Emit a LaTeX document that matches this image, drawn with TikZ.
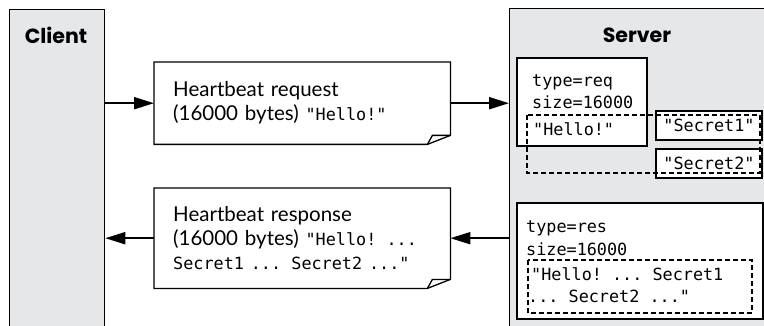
\documentclass[tikz,border=0pt]{standalone}
\usepackage{fontspec}
\setmainfont{Lato}
\setmonofont{DejaVu Sans Mono}
\newfontfamily\titlefont{Poppins}
\usetikzlibrary{arrows.meta}
\definecolor{panelgray}{HTML}{E6E7E8}
\newcommand{\mono}[1]{{\ttfamily\fontsize{16.8}{24}\selectfont #1}}
\tikzset{
	panel/.style={draw, line width=1.3pt, fill=panelgray, anchor=north west, inner sep=0pt},
	title/.style={font=\titlefont\bfseries\fontsize{20.5}{24}\selectfont},
	msg/.style={anchor=north west, inner xsep=19pt, inner ysep=0pt, align=left,
		font=\fontsize{20.5}{24}\selectfont},
	memo/.style={draw, line width=1.3pt, fill=white},
	code/.style={anchor=base west, inner sep=0pt, font=\ttfamily\fontsize{16.8}{22}\selectfont},
	leak/.style={line width=2.6pt, dash pattern=on 5pt off 3pt},
	flow/.style={line width=2pt, -{Triangle[length=20pt,width=12pt]}}
}
\begin{document}
\begin{tikzpicture}[x=1pt,y=-1pt]
	\useasboundingbox (0,0) rectangle (764,326);

	% client and server
	\node [panel, minimum width=95pt, minimum height=330pt] (client) at (9,9) {};
	\node [title] (clientlbl) at (56,35) {Client};
	\node [panel, minimum width=300pt, minimum height=330pt] (server) at (509,8) {};
	\node [title] (serverlbl) at (637,35) {Server};

	% heartbeat request
	\node [msg, text width=258pt, minimum height=82pt] (rq) at (154,62) {};
	\draw [line width=1.3pt, fill=white] (rq.north west) -- (rq.north east)
		-- ([yshift=9pt]rq.south east) -- ([xshift=-23pt]rq.south east)
		-- (rq.south west) -- cycle;
	\draw [line width=1.3pt] ([xshift=-23pt]rq.south east)
		-- ([shift={(-18pt,9pt)}]rq.south east) -- ([yshift=9pt]rq.south east);
	\node [msg, text width=258pt, minimum height=82pt] (rqtext) at (154,62)
		{Heartbeat request\\(16000 bytes) \mono{"Hello!"}};

	% heartbeat response
	\node [msg, text width=258pt, minimum height=100pt] (rs) at (154,188) {};
	\draw [line width=1.3pt, fill=white] (rs.north west) -- (rs.north east)
		-- ([yshift=9pt]rs.south east) -- ([xshift=-23pt]rs.south east)
		-- (rs.south west) -- cycle;
	\draw [line width=1.3pt] ([xshift=-23pt]rs.south east)
		-- ([shift={(-18pt,9pt)}]rs.south east) -- ([yshift=9pt]rs.south east);
	\node [msg, text width=258pt, minimum height=100pt] (rstext) at (154,188)
		{Heartbeat response\\(16000 bytes) \mono{"Hello! ...}\\\mono{Secret1 ... Secret2 ..."}};

	% request in server memory
	\draw [memo] (517,58) rectangle (647,146);
	\node [code] (rqtype) at (532,87) {type=req};
	\node [code] (rqsize) at (532,109) {size=16000};
	\node [code] (rqdata) at (533,136) {"Hello!"};
	\node [memo, minimum width=106pt, minimum height=29pt, inner sep=0pt,
		font=\ttfamily\fontsize{16.8}{22}\selectfont] (sec1) at (709,125.5) {"Secret1"};
	\node [memo, minimum width=106pt, minimum height=29pt, inner sep=0pt,
		font=\ttfamily\fontsize{16.8}{22}\selectfont] (sec2) at (709,163.5) {"Secret2"};
	\draw [leak] (527,115) rectangle (760,173);

	% response in server memory
	\draw [memo] (517,203) rectangle (763,319);
	\node [code] (rstype) at (526,233) {type=res};
	\node [code] (rssize) at (526,255) {size=16000};
	\node [code] (rsdata1) at (531,280) {"Hello! ... Secret1};
	\node [code] (rsdata2) at (528,302) {... Secret2 ..."};
	\draw [leak] (528,260) rectangle (752,313);

	% arrows
	\draw [flow] (client.east |- rq.west) -- (rq.west);
	\draw [flow] (rq.east) -- (server.west |- rq.east);
	\draw [flow] (server.west |- rs.east) -- (rs.east);
	\draw [flow] (rs.west) -- (client.east |- rs.west);
\end{tikzpicture}
\end{document}
